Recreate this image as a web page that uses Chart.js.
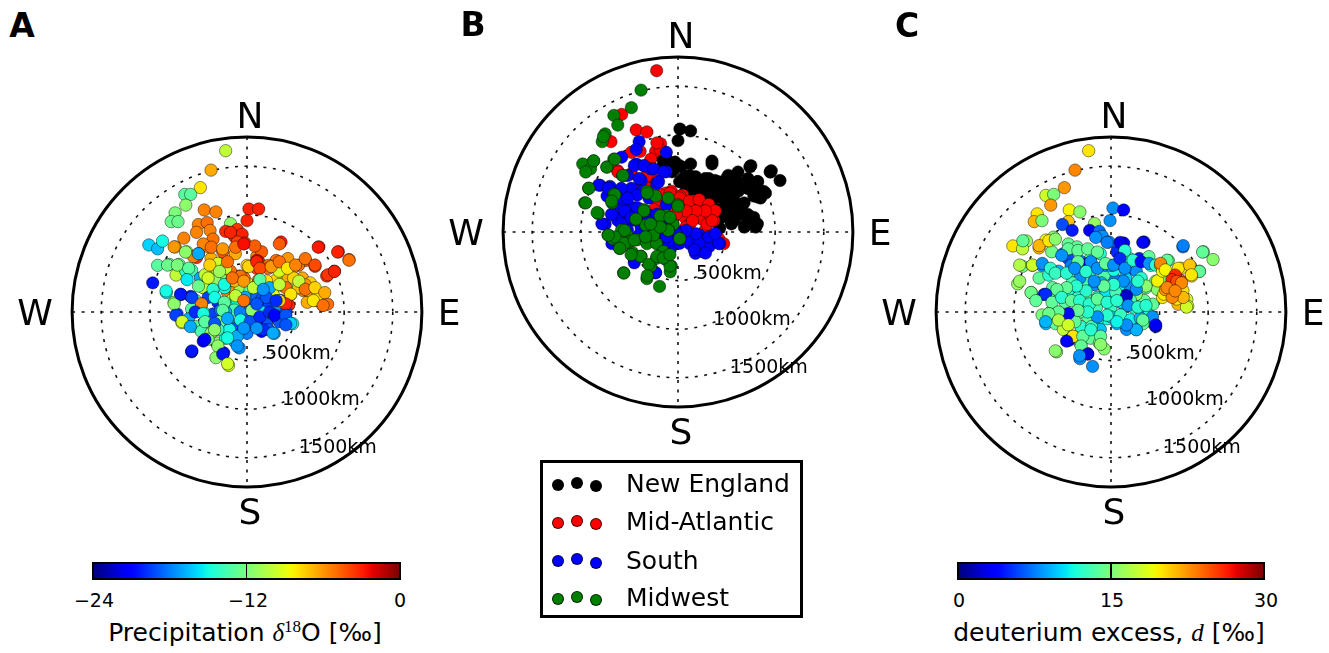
<!DOCTYPE html>
<html><head><meta charset="utf-8">
<script src="https://cdn.jsdelivr.net/npm/chart.js@4.4.1/dist/chart.umd.min.js"></script>
<style>
html,body{margin:0;padding:0;background:#fff;}
body{width:1329px;height:653px;position:relative;overflow:hidden;font-family:"DejaVu Sans",sans-serif;color:#000;}
canvas{position:absolute;}
.t{position:absolute;white-space:nowrap;line-height:1;transform:translate(-50%,-50%);}
.letter{font-weight:bold;font-size:33px;}
.tick{font-size:19px;}
.clabel{font-size:25px;}
.cbar{position:absolute;top:562px;height:18px;border:2px solid #000;box-sizing:border-box;}
.cbar .mid{position:absolute;left:50%;top:0;bottom:0;width:1.5px;margin-left:-0.75px;background:#000;}
.legend{position:absolute;left:540px;top:460px;width:263px;height:158px;border:3px solid #000;box-sizing:border-box;}
.ldot{position:absolute;width:12px;height:12px;border-radius:50%;box-sizing:border-box;border:0.6px solid rgba(0,0,0,0.7);}
.ltxt{position:absolute;font-size:25px;white-space:nowrap;line-height:1;transform:translateY(-50%);}
.m{font-family:"Liberation Serif",serif;font-style:italic;}
</style></head><body>
<canvas id="cA" width="480" height="480" style="left:7px;top:72px"></canvas>
<canvas id="cB" width="480" height="480" style="left:438px;top:-8px"></canvas>
<canvas id="cC" width="480" height="480" style="left:871px;top:72px"></canvas>

<div class="t letter" style="left:22px;top:25px">A</div>
<div class="t letter" style="left:473px;top:24px">B</div>
<div class="t letter" style="left:907px;top:25px">C</div>

<div class="cbar" id="cbA" style="left:92px;width:309px"><div class="mid"></div></div>
<div class="t tick" style="left:94px;top:600px">&minus;24</div>
<div class="t tick" style="left:248px;top:600px">&minus;12</div>
<div class="t tick" style="left:400px;top:600px">0</div>
<div class="t clabel" style="left:245px;top:632px">Precipitation <span class="m">δ</span><span class="m" style="font-style:normal;font-size:17px;position:relative;top:-9px">18</span>O [‰]</div>

<div class="cbar" id="cbC" style="left:957px;width:308px"><div class="mid"></div></div>
<div class="t tick" style="left:959px;top:600px">0</div>
<div class="t tick" style="left:1112px;top:600px">15</div>
<div class="t tick" style="left:1266px;top:600px">30</div>
<div class="t clabel" style="left:1109px;top:632px">deuterium excess, <span class="m">d</span> [‰]</div>

<div class="legend" id="legend"></div>

<script>
// ---------------- DATA (km east, km north of site) ----------------
const RINGS_KM = [500, 1000, 1500];
const OUTER_KM = 1800;
const RING_LABELS = ['500km', '1000km', '1500km'];
const D18O_TICKS = [-24, -12, 0];
const DEX_TICKS = [0, 15, 30];
const REGIONS = ['New England', 'Mid-Atlantic', 'South', 'Midwest'];

// Panel A: [east km, north km, precipitation d18O permil]
const precipD18O = [
[-220,1660,-10],[-370,1460,-6.5],[-480,1280,-8],[-640,1210,-13],[-580,1210,-13],[-630,1100,-11.5],
[-740,1020,-12],[-780,930,-12.5],[-710,930,-12.5],[-440,1050,-5.5],[-320,1030,-5.5],[-170,910,-11.5],
[-500,900,-5.5],[-410,920,-5],[-380,840,-5.5],[-520,820,-5.5],[20,1060,-3],[120,1060,-3],[0,940,-3],
[-220,830,-3.2],[-100,850,-3.5],[-130,780,-3.5],[-50,800,-3],[-20,710,-3.5],[-100,720,-3.8],[-170,820,-3],
[350,720,-2.8],[740,670,-2.8],[940,620,-3],[1050,540,-5],[900,420,-3],[820,370,-3.5],[700,470,-3.5],
[600,530,-4.5],[530,480,-5],[420,550,-6],[300,530,-5],[100,570,-5.5],[150,620,-4.5],[80,680,-4.5],
[120,520,-3],[220,480,-4.8],[0,480,-7.5],[-120,600,-6.5],[-230,520,-5.5],[-370,550,-6.5],[-400,670,-5.5],
[-350,750,-5],[-450,700,-5.5],[-650,760,-5.5],[-740,670,-6.5],[-1010,690,-16],[-920,650,-16.5],
[-870,730,-15],[-620,620,-11],[-500,600,-17],[-520,560,-3.5],[-920,480,-13],[-800,490,-13],[-700,490,-13],
[-730,380,-10],[-630,420,-14.5],[-570,430,-13.5],[-970,300,-20.5],[-830,200,-15.5],[-680,180,-21],
[-580,160,-20.5],[-750,100,-11.5],[-470,80,-5.5],[-480,350,-17],[-400,350,-9.5],[-300,420,-10],
[-350,230,-17],[-450,250,-10],[-250,330,-12],[-180,300,-5.5],[-80,370,-5],[0,300,-8],[-200,200,-5.5],
[-120,220,-6],[-70,230,-11],[70,250,-13],[170,220,-9.5],[250,250,-17],[300,270,-5],[370,270,-10],
[450,180,-8],[500,280,-11.5],[420,350,-6.5],[300,330,-7.5],[200,320,-8],[120,330,-5],[100,450,-4],
[220,450,-5],[330,420,-9.5],[470,450,-6.5],[570,350,-6.5],[650,300,-7.5],[580,220,-5.5],[670,150,-7.5],
[700,120,-6.5],[780,70,-5.5],[750,130,-8],[620,100,-6.5],[430,70,-3],[350,120,-19],
[-300,500,-9.5],[-170,420,-5],[-220,450,-9.5],[-330,330,-11.5],[-130,320,-7],[-30,350,-5],[30,220,-13],
[120,250,-11],[270,180,-9],[400,250,-5],[480,350,-7.5],[530,250,-7],[600,280,-6],[630,220,-6.5],
[730,180,-8],[830,80,-5],[-230,250,-15],[-150,130,-9.5],[-400,150,-19.5],[-530,120,-13.5],[100,530,-2.5],
[-250,620,-4.5],[-550,570,-5.5],
[-300,100,-20],[-350,-20,-19.5],[-270,20,-18],[-180,70,-15],[-100,120,-15],[-20,150,-17],[100,170,-18.5],
[150,130,-19],[230,80,-19.5],[300,30,-17.5],[400,0,-19],[470,-120,-15],[400,-120,-19],[280,-50,-20],
[200,-120,-19],[150,-200,-21],[280,-220,-17],[70,-150,-18],[0,-50,-18.5],[-70,-100,-14.5],[-130,20,-13.5],
[-220,0,-17],[-200,-80,-17.5],[-120,-170,-19],[-30,-170,-17.5],[70,0,-11.5],[150,0,-15.5],[-720,-20,-19.5],
[-670,-110,-9.5],[-570,30,-13],[-600,-70,-17],[-450,0,-13],[-530,-150,-13],[-430,-100,-12],[-470,-200,-13.5],
[-370,-220,-11],[-450,-300,-21.5],[-300,-320,-11.5],[-220,-270,-15],[-130,-300,-17],[-80,-370,-17.5],
[-570,-410,-20.5],[-320,-470,-11.5],[-240,-420,-20.5],[-190,-550,-9.5],
[-280,-100,-12],[-70,0,-18],[30,70,-18.5],[330,-100,-19],[100,-80,-20],[220,-180,-19],[0,-220,-18],
[-180,-180,-15],[-300,-180,-14],[-400,-280,-12],[-100,-250,-17],
[-750,670,-6],[-633,617,-11.5],[-500,600,-17],[-367,667,-5],[-250,650,-6],[-117,667,-5],[-33,700,-2.5],
[333,700,-4.5],[733,667,-2.8],[933,617,-3],[1050,533,-5],
[-817,483,-12.5],[-717,483,-12],[-600,450,-13],[-433,383,-10],[-383,483,-7.5],[-283,417,-11],[-200,517,-5],
[-67,367,-5],[17,467,-7.5],[100,517,-3],[133,450,-4],[250,467,-6],[333,517,-5],[417,450,-8],[500,483,-5.5],
[600,550,-5],[700,483,-4],[833,383,-3.5],[900,417,-3],
[-833,217,-15],[-750,83,-11.5],[-683,183,-20.5],[-567,150,-19.5],[-617,333,-15.5],[-500,267,-12.5],
[-400,350,-9.5],[-350,233,-14.5],[-233,283,-15],[-150,350,-5],[-33,317,-6],[67,250,-10],[133,333,-13],
[233,250,-17],[333,283,-10],[450,183,-8],[533,317,-10],[600,233,-5],[700,250,-7.5],[800,200,-6.5],
[683,117,-8],[783,67,-5],[400,83,-3],[333,117,-7.5],
[-467,83,-5.5],[-333,150,-15],[-233,100,-13],[-117,167,-10],[-33,117,-5],[50,17,-11.5],[100,83,-19],
[200,150,-19],[300,117,-20],[167,233,-17.5],
[-733,-33,-19.5],[-533,0,-20],[-450,-17,-15],[-667,-100,-9.5],[-583,-150,-17],[-433,-100,-13],[-333,-117,-19],
[-250,17,-13],[-200,-67,-17],[-67,-83,-15],[33,-100,-19],[133,-50,-20],[233,0,-20],[283,-33,-21],
[400,-33,-19],[450,-117,-16],[400,-133,-19],[167,-183,-20],[267,-217,-17],[100,-167,-17.5],[-33,-167,-17.5],
[-200,-267,-15],[-333,-183,-11.5],[-433,-283,-21],[-300,-350,-11.5],[-100,-350,-17.5],[-250,-433,-20.5],
[-200,-533,-9.5],[-567,-400,-20.5]
];

// Panel B: [east km, north km] by region
const newEngland = [
[20,1060],[130,1040],[0,940],[-120,750],[-30,720],[-50,670],[30,670],[130,700],[350,730],[740,670],
[960,630],[1050,530],[180,570],[280,550],[380,530],[500,550],[600,530],[720,550],[820,520],[800,430],
[50,550],[120,480],[220,470],[320,450],[420,470],[520,420],[620,420],[720,450],[780,370],[850,350],
[80,420],[180,380],[280,350],[380,350],[480,350],[580,320],[680,300],[520,250],[620,220],[720,180],
[780,150],[800,80],[720,80],[450,150],[530,170],[420,230],[580,120],[430,40],[800,50],[700,80],
[730,150],[620,180],[520,320],[250,300],[350,250],[650,250],[550,200],[900,400],[820,360],[950,620],
[-130,800],[-60,620],[-180,780],[-150,700],
[17,683],[117,583],[17,517],[217,517],[317,550],[417,517],[517,583],[617,617],[750,683],[950,617],
[883,417],[817,517],[717,450],[617,483],[517,450],[417,383],[317,417],[217,383],[483,317],[583,250],
[683,183],[750,117],[817,83],[683,50],[550,83],[450,183],[350,700],[117,450]
];
const midAtlantic = [
[-220,1660],[-580,1210],[-690,930],[-430,1050],[-320,1030],[-390,830],[-180,910],[-230,830],[-620,630],
[-480,600],[-320,570],[-230,530],[-280,670],[-170,350],[-220,250],[-90,370],[50,380],[150,320],[250,280],
[350,220],[370,120],[150,220],[70,150],[180,150],[250,180],[120,80],[420,-70],[470,-120],[-70,420],
[-20,280],[-280,750],[-480,820],[-80,350],[20,370],[280,20],[80,50],[250,130],[-220,320],[-250,230],
[-380,520],[-280,550],[300,80],[200,250],[100,300],[330,170],[-130,400],
[-183,383],[-83,400],[17,350],[117,317],[217,333],[317,283],[383,217],[350,117],[283,217],[183,217],
[83,217],[-17,183],[-117,217],[150,117],[-283,450],[-317,583],[-617,617],[-183,850],[-217,917]
];
const south = [
[-400,930],[-430,850],[-120,820],[-580,770],[-430,700],[-350,680],[-280,650],[-120,620],[-520,580],
[-380,530],[-220,500],[-800,480],[-700,470],[-730,370],[-580,420],[-480,450],[-370,420],[-530,320],
[-450,250],[-750,80],[-680,180],[-570,180],[-470,120],[-380,150],[-280,170],[-150,130],[-520,20],
[-380,50],[-250,80],[-680,-120],[-280,0],[-180,-50],[-100,-100],[-20,-120],[30,0],[80,0],[150,-30],
[220,-30],[280,-80],[370,-100],[430,-120],[170,-150],[250,-200],[180,-220],[100,-80],[-80,-180],
[-450,-280],[-230,-420],[-120,280],[-300,350],[-600,280],[-420,380],[-330,100],[-200,20],[-50,30],
[50,-50],[120,-120],[320,-150],[-150,-150],[-400,-30],[-620,120],[-650,350],
[-817,483],[-717,450],[-583,450],[-450,683],[-350,683],[-250,650],[-150,617],[-400,550],[-200,517],
[-617,350],[-517,350],[-417,250],[-550,217],[-683,183],[-783,83],[-583,83],[-483,150],[-217,183],
[-150,50],[-67,-83],[17,-117],[117,-83],[217,-117],[317,-50],[417,-117],[383,-17],[183,-17],[83,17],
[-17,-17],[-117,-50],[-217,-117],[-283,-17],[283,-217],[167,-183],[-450,-317],[-233,-417]
];
const midwest = [
[-380,1460],[-480,1280],[-660,1200],[-620,1100],[-750,1010],[-780,930],[-870,730],[-980,700],[-900,650],
[-730,670],[-660,750],[-570,580],[-920,450],[-960,300],[-820,190],[-680,300],[-660,390],[-320,420],
[-350,230],[-430,130],[-100,350],[0,280],[-170,170],[-200,80],[-50,80],[-330,70],[-100,20],[20,-70],
[-720,-30],[-670,-70],[-580,20],[-530,-20],[-600,-170],[-470,-210],[-380,-250],[-280,-350],[-420,-80],
[-320,-120],[-220,-120],[-220,-270],[-130,-280],[-70,-350],[-80,-410],[-560,-420],[-320,-480],[-190,-560],
[-230,370],[-120,170],[-500,-100],[-250,-30],[-150,-200],
[-767,983],[-867,733],[-733,667],[-650,750],[-950,617],[-917,450],[-950,300],[-833,200],[-650,383],
[-683,317],[-567,583],[-317,400],[-350,217],[-433,133],[-183,167],[-83,150],[-100,17],[0,267],[17,-67],
[-183,50],[-283,83],[-550,17],[-650,-50],[-717,-33],[-550,-117],[-600,-167],[-450,-83],[-333,-50],
[-383,-250],[-483,-233],[-300,-333],[-217,-250],[-83,-350],[-150,-267],[-557,-423],[-317,-450],[-83,-233]
];

// Panel C: [east km, north km, deuterium excess permil]
const deuteriumExcess = [
[-230,1660,20],[-370,1460,23],[-480,1280,22.5],[-670,1200,18],[-590,1210,15],[-620,1100,22.5],
[-430,1050,19.5],[-320,1030,15.5],[-760,1010,20],[-790,930,21.5],[-710,940,15],[20,1070,8],[130,1050,3.5],
[-10,940,8],[-440,930,21],[-500,900,6],[-400,840,4.5],[-170,910,16],[-220,840,3],[-120,830,7],[-90,780,8],
[-20,720,8],[130,710,3.5],[340,720,3.5],[740,670,7.5],[950,620,14],[1050,540,15.5],[-1010,680,20],
[-870,730,16],[-910,650,17.5],[-670,740,19.5],[-740,660,21.5],[-590,770,15.5],[-610,620,14.5],[-440,700,14],
[-350,670,14],[-490,600,7.5],[-440,550,6],[-910,470,14.5],[-810,480,18],[-710,480,8],[-960,290,16],
[-820,200,15.5],[-690,180,5],[-590,160,14],[-740,350,14],[-640,380,12],[-540,420,9],[-410,480,7.5],
[-310,520,7.5],[-210,550,14],[-110,600,12],[60,620,5],[110,520,3.5],[140,630,8],[190,550,12],[290,550,4.5],
[390,570,14],[410,480,12],[590,530,14],[820,470,17],[910,420,14],
[560,350,15.5],[430,80,14],[340,120,14],[260,180,15.5],[360,250,14],[260,300,12],[180,280,8],[140,170,3],
[90,280,11],[30,350,7.5],[-70,380,13.5],[-70,250,12],[-170,280,8],[-270,330,13.5],[-360,250,8],
[-440,180,11.5],[-470,100,14],[-340,150,12],[-240,130,14.5],[-140,150,12],[-60,120,8],[30,150,11.5],
[130,80,11],[230,50,12],[330,20,9],[390,-30,12],[440,-120,9],[460,-150,3],[330,-120,14],[260,-180,9.5],
[160,-180,8],[60,-120,9],[-40,-70,11.5],[-140,-80,12],[-240,-50,14],[-320,0,14],[-420,-20,4],[-520,-20,14.5],
[-620,0,14],[-710,-30,15],[-670,-120,9.5],[-570,-120,14],[-490,-180,17.5],[-390,-250,20],[-430,-290,3.5],
[-310,-330,14],[-210,-270,14],[-120,-320,15],[-70,-380,15.5],[-240,-430,2.5],[-320,-480,8],[-190,-560,8],
[-560,-410,15.5],[-110,-180,9.5],[-310,-150,12],[-370,-100,14],[-520,180,15.5],[-410,380,13.5],[-320,350,8],
[-210,420,12],[-240,500,4],[-60,480,8],[30,430,11.5],[160,420,5],[260,420,8],[310,350,12],[160,150,2],[80,500,3],
[-150,50,13],[0,50,12.5],[100,100,10],[200,120,13],[-50,200,10.5],[50,200,13],[-300,50,12],[-200,-150,13],
[0,-50,10],[100,-30,12.5],[200,-80,11],[300,-60,9],[-100,300,9],[150,350,10],[0,480,9],[-400,300,13],[-600,250,14],
[-907,733,14],[-740,683,21.5],[-640,733,20],[-573,750,15.5],[-440,650,14],[-340,633,14],[-240,650,14],
[-140,617,14],[-507,583,8],[-340,517,14],[-207,517,8],[-157,767,8],[-40,717,7.5],[93,717,3],[143,633,12],
[327,717,3.5],[743,683,7.5],[943,617,14],
[-940,483,17],[-807,483,18],[-707,500,8],[-623,450,12],[-573,400,12.5],[-457,400,12],[-373,450,8],
[-257,417,12],[-140,450,8],[-57,500,14],[27,483,8],[93,550,5],[143,450,8],[227,533,12],[310,517,4],
[393,500,8],[460,483,12],[577,533,14],[910,417,14],
[460,317,14],[477,233,15.5],[360,267,15.5],[260,233,8],[160,167,2],[277,317,12],[127,317,8],[27,283,12],
[-73,267,14],[-173,317,8],[-257,217,12],[-357,267,12],[-457,250,14],[-557,233,14],[-673,183,5],[-823,200,14.5],
[-940,317,16],[-773,117,14],[-607,100,14],[-507,150,12],[-407,117,14],[-323,117,12],[-223,83,12],[-140,133,14],
[-40,100,12],[60,117,12],[177,67,8],[277,50,12],[360,67,12],[427,-50,8],[460,-133,3],[327,-83,14],[260,-183,9],
[160,-133,8],[60,-100,11],[-40,-33,12],[-140,-50,8],[-240,0,12],[-340,17,14],[-440,-17,4],[-540,0,14],
[-640,-17,14.5],[-673,-100,9],[-540,-83,17],[-440,-133,18],[-390,-250,20],[-457,-300,3.5],[-290,-250,14],
[-207,-183,12],[-107,-250,14],[-107,-333,15.5],[-307,-350,14],[-240,-433,2.5],[-573,-400,15.5],[-323,-450,8],
[510,480,23],[720,450,20],[830,370,20],[480,320,19.5],[530,420,19.5],[640,180,20],[710,150,20],[780,130,18],
[790,60,18],[690,80,21.5],[740,220,20],[530,150,20],[510,500,23],[693,450,20],[810,483,21],[827,383,20],
[560,433,19.5],[543,183,20],[677,133,20],[777,50,18],[743,150,21.5],
[660,300,26],[710,330,25],[620,250,23],[560,230,22.5],[630,150,23],[660,380,26],[627,333,26],[677,317,25],
[727,300,23],[577,250,23],[660,217,23]
];

// ---------------- STYLE / HELPERS ----------------
const JR = [[0,0],[0.35,0],[0.66,1],[0.89,1],[1,0.5]];
const JG = [[0,0],[0.125,0],[0.375,1],[0.64,1],[0.91,0],[1,0]];
const JB = [[0,0.5],[0.11,1],[0.34,1],[0.65,0],[1,0]];
function interp(pts, t){
  for (let i = 1; i < pts.length; i++) {
    if (t <= pts[i][0]) { const a = pts[i-1], b = pts[i]; return a[1] + (b[1]-a[1])*(t-a[0])/(b[0]-a[0]); }
  }
  return pts[pts.length-1][1];
}
function jet(t){
  t = Math.max(0, Math.min(1, t));
  return 'rgb(' + Math.round(interp(JR,t)*255) + ',' + Math.round(interp(JG,t)*255) + ',' + Math.round(interp(JB,t)*255) + ')';
}
function gradientCSS(){
  const s = [];
  for (let i = 0; i <= 60; i++) { const t = i/60; s.push(jet(t) + ' ' + (t*100).toFixed(2) + '%'); }
  return 'linear-gradient(to right,' + s.join(',') + ')';
}
document.getElementById('cbA').style.background = gradientCSS();
document.getElementById('cbC').style.background = gradientCSS();

const polarFrame = {
  id: 'polarFrame',
  beforeDatasetsDraw(chart){
    const ctx = chart.ctx, xs = chart.scales.x, ys = chart.scales.y;
    const cx = xs.getPixelForValue(0), cy = ys.getPixelForValue(0);
    const k = (xs.getPixelForValue(1000) - cx) / 1000;
    ctx.save();
    ctx.strokeStyle = '#111';
    ctx.lineWidth = 1.6;
    ctx.setLineDash([3, 6.5]);
    RINGS_KM.forEach(r => { ctx.beginPath(); ctx.arc(cx, cy, r*k, 0, Math.PI*2); ctx.stroke(); });
    ctx.beginPath();
    ctx.moveTo(xs.getPixelForValue(-OUTER_KM), cy); ctx.lineTo(xs.getPixelForValue(OUTER_KM), cy);
    ctx.moveTo(cx, ys.getPixelForValue(OUTER_KM)); ctx.lineTo(cx, ys.getPixelForValue(-OUTER_KM));
    ctx.stroke();
    ctx.setLineDash([]);
    ctx.lineWidth = 3;
    ctx.strokeStyle = '#000';
    ctx.beginPath(); ctx.arc(cx, cy, OUTER_KM*k, 0, Math.PI*2); ctx.stroke();
    ctx.restore();
  },
  afterDatasetsDraw(chart){
    const ctx = chart.ctx, xs = chart.scales.x, ys = chart.scales.y;
    const cx = xs.getPixelForValue(0), cy = ys.getPixelForValue(0);
    ctx.save();
    ctx.fillStyle = '#000';
    ctx.font = '19px "DejaVu Sans"';
    ctx.textAlign = 'left';
    ctx.textBaseline = 'alphabetic';
    const off = [[18,40],[35,86],[52,134]];
    RING_LABELS.forEach((s,i) => ctx.fillText(s, cx + off[i][0], cy + off[i][1] + 7));
    ctx.font = '36px "DejaVu Sans"';
    ctx.textAlign = 'center';
    const card = [['N',3,-197],['S',3,199],['W',-212,0],['E',202,0]];
    card.forEach(c => ctx.fillText(c[0], cx + c[1], cy + c[2] + 13));
    ctx.restore();
  }
};

function makePanel(id, datasets){
  return new Chart(document.getElementById(id), {
    type: 'scatter',
    data: { datasets },
    options: {
      responsive: false, animation: false, events: [],
      layout: { padding: 0 },
      plugins: { legend: { display: false }, tooltip: { enabled: false } },
      scales: {
        x: { type: 'linear', min: -2400, max: 2400, display: false },
        y: { type: 'linear', min: -2400, max: 2400, display: false }
      }
    },
    plugins: [polarFrame]
  });
}
const PT = { pointRadius: 6.2, pointBorderWidth: 0.6, pointBorderColor: 'rgba(0,0,0,0.75)' };
const xy = a => a.map(p => ({ x: p[0], y: p[1] }));

makePanel('cA', [Object.assign({
  label: 'd18O', data: xy(precipD18O),
  pointBackgroundColor: precipD18O.map(p => jet((p[2] - D18O_TICKS[0]) / (D18O_TICKS[2] - D18O_TICKS[0])))
}, PT)]);

const REGION_COLORS = ['#000000', '#ff0000', '#0000ff', '#007f00'];
const regionData = [newEngland, midAtlantic, south, midwest];
makePanel('cB', regionData.map((d, i) => Object.assign({
  label: REGIONS[i], data: xy(d), order: 4 - i,
  pointBackgroundColor: REGION_COLORS[i]
}, PT)));

makePanel('cC', [Object.assign({
  label: 'd-excess', data: xy(deuteriumExcess),
  pointBackgroundColor: deuteriumExcess.map(p => jet((p[2] - DEX_TICKS[0]) / (DEX_TICKS[2] - DEX_TICKS[0])))
}, PT)]);

// legend for panel B
const leg = document.getElementById('legend');
const rowY = [483, 521, 559.5, 597];
const dotX = [558, 577, 596];
const dotDy = [1.5, -0.5, 3];
REGIONS.forEach((name, i) => {
  dotX.forEach((x, j) => {
    const d = document.createElement('div');
    d.className = 'ldot';
    d.style.left = (x - 6 - 540 - 3) + 'px';
    d.style.top = (rowY[i] + dotDy[j] - 6 - 460 - 3) + 'px';
    d.style.background = REGION_COLORS[i];
    leg.appendChild(d);
  });
  const t = document.createElement('div');
  t.className = 'ltxt';
  t.textContent = name;
  t.style.left = (626 - 540 - 3) + 'px';
  t.style.top = (rowY[i] - 460 - 3) + 'px';
  leg.appendChild(t);
});
</script>
</body></html>
